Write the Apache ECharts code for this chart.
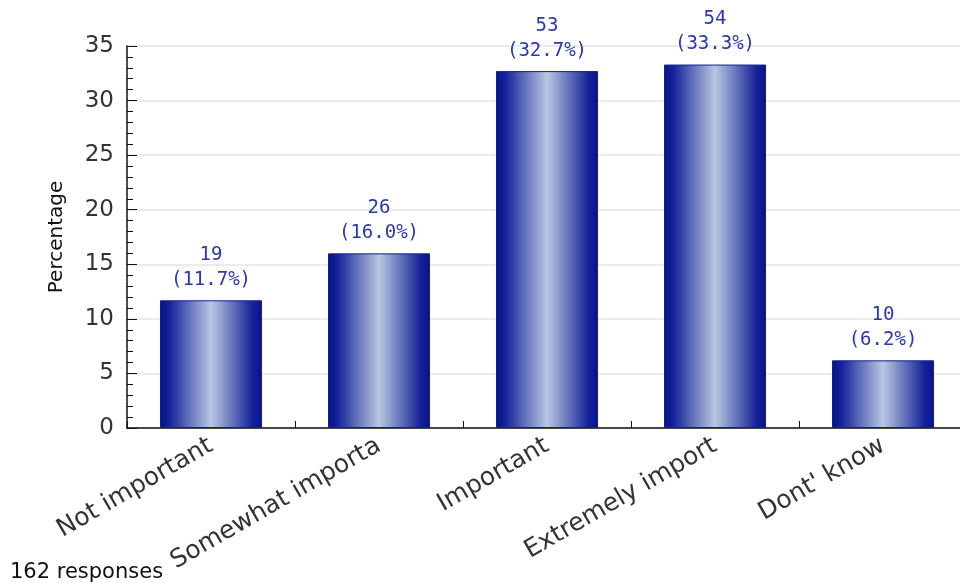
<!DOCTYPE html>
<html>
<head>
<meta charset="utf-8">
<script src="https://cdn.jsdelivr.net/npm/echarts@6/dist/echarts.min.js"></script>
<style>
  html, body { margin: 0; padding: 0; background: #ffffff; overflow: hidden; }
  /* The plot runs a few pixels past the right edge of the window */
  #chart { width: 968px; height: 583px; }
</style>
</head>
<body>
<div id="chart"></div>
<script>
// Answer categories and survey results
const categories = ['Not important', 'Somewhat importa', 'Important', 'Extremely import', "Dont' know"];
const counts = [19, 26, 53, 54, 10];
const percentages = [11.7, 16.0, 32.7, 33.3, 6.2];
const totalResponses = 162;
const yTicks = { min: 0, max: 35, step: 5 };

const chart = echarts.init(document.getElementById('chart'), null, { renderer: 'canvas' });

// Cylinder-like horizontal shading for each bar
const barFill = new echarts.graphic.LinearGradient(0, 0, 1, 0, [
  { offset: 0, color: '#08128a' },
  { offset: 0.1, color: '#18259a' },
  { offset: 0.5, color: '#b8c8e0' },
  { offset: 0.9, color: '#18259a' },
  { offset: 1, color: '#08108a' }
]);

chart.setOption({
  animation: false,
  backgroundColor: '#ffffff',
  grid: { left: 127, top: 46, height: 382, right: 1, containLabel: false },
  xAxis: {
    type: 'category',
    data: categories,
    axisLine: { lineStyle: { color: '#111', width: 1.5 } },
    axisTick: { show: true, inside: true, length: 7, alignWithLabel: false, lineStyle: { color: '#111' } },
    axisLabel: {
      rotate: 30,
      margin: 16,
      interval: 0,
      fontFamily: 'DejaVu Sans',
      fontSize: 25,
      color: '#333'
    },
    splitLine: { show: false }
  },
  yAxis: {
    type: 'value',
    min: yTicks.min,
    max: yTicks.max,
    interval: yTicks.step,
    name: 'Percentage',
    nameLocation: 'middle',
    nameRotate: 90,
    nameGap: 60,
    nameTextStyle: { fontFamily: 'DejaVu Sans', fontSize: 20, color: '#111' },
    axisLine: { show: true, lineStyle: { color: '#111', width: 1.5 } },
    axisTick: { show: true, inside: true, length: 10, lineStyle: { color: '#111' } },
    minorTick: { show: true, splitNumber: 5, length: 6, lineStyle: { color: '#111' } },
    axisLabel: { margin: 13, fontFamily: 'DejaVu Sans', fontSize: 23, color: '#333' },
    splitLine: { show: true, lineStyle: { color: '#e4e4e4', width: 1.5 } }
  },
  series: [{
    type: 'bar',
    data: percentages,
    barWidth: 102,
    itemStyle: { color: barFill, borderColor: '#14208f', borderWidth: 1 },
    label: {
      show: true,
      position: 'top',
      distance: 8,
      fontFamily: 'DejaVu Sans Mono',
      fontSize: 19,
      lineHeight: 25,
      color: '#2a38ac',
      formatter: p => counts[p.dataIndex] + '\n(' + percentages[p.dataIndex].toFixed(1) + '%)'
    }
  }],
  graphic: [{
    type: 'text',
    left: 10,
    top: 562,
    style: {
      text: totalResponses + ' responses',
      fontFamily: 'DejaVu Sans',
      fontSize: 21,
      fill: '#111'
    }
  }]
});
</script>
</body>
</html>
